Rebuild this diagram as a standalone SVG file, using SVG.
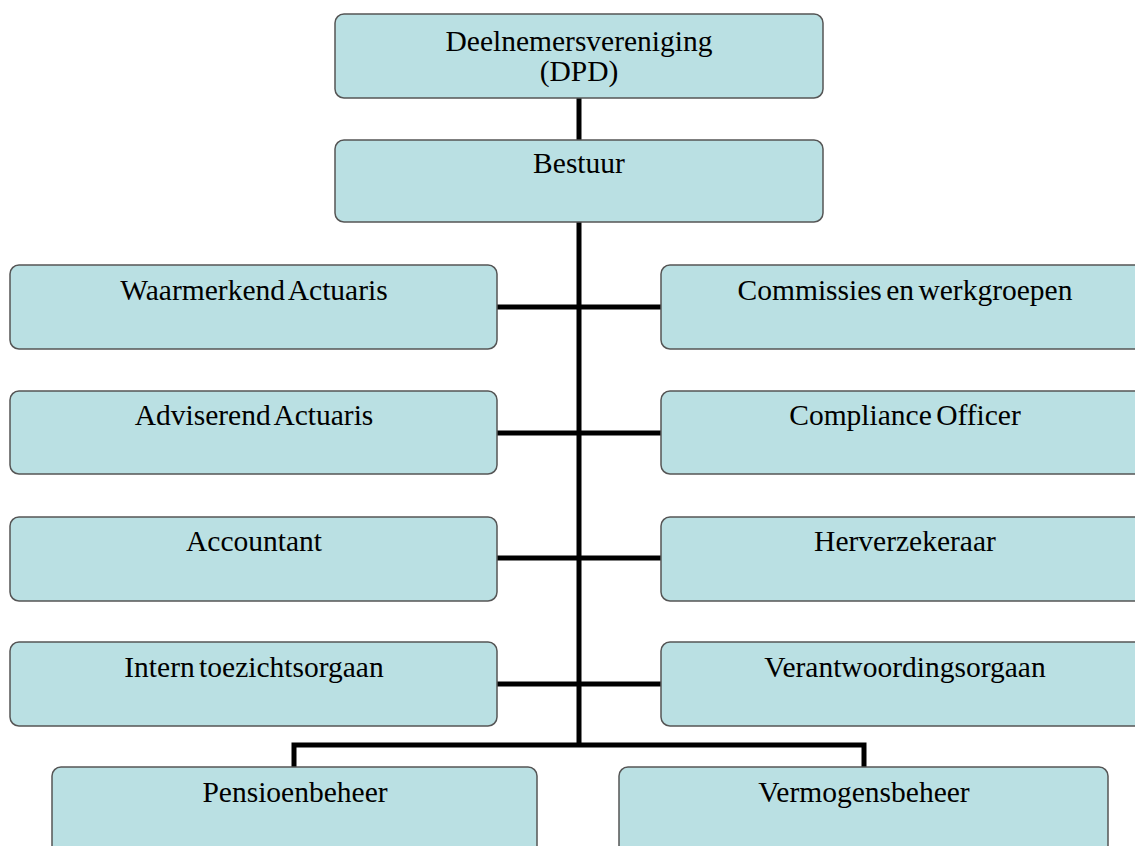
<svg xmlns="http://www.w3.org/2000/svg" width="1135" height="846" viewBox="0 0 1135 846">
<style>
.box{fill:#BAE0E3;stroke:#555;stroke-width:1.5}
.t{font-family:"Liberation Serif","Times New Roman",serif;font-size:29.5px;word-spacing:-3px;fill:#000;text-anchor:middle}
.c{fill:none;stroke:#000;stroke-width:5}
</style>
<rect width="1135" height="846" fill="#fff"/>
<g id="connectors">
<line class="c" x1="579" y1="98" x2="579" y2="140"/>
<line class="c" x1="579" y1="222" x2="579" y2="745"/>
<line class="c" x1="497" y1="307" x2="661" y2="307"/>
<line class="c" x1="497" y1="433" x2="661" y2="433"/>
<line class="c" x1="497" y1="558" x2="661" y2="558"/>
<line class="c" x1="497" y1="684" x2="661" y2="684"/>
<polyline class="c" points="294,767 294,745 864,745 864,767"/>
</g>
<g id="dpd"><rect class="box" x="335" y="14" width="488" height="84" rx="9"/><text class="t" x="579" y="51">Deelnemersvereniging</text><text class="t" x="579" y="81">(DPD)</text></g>
<g id="bestuur"><rect class="box" x="335" y="140" width="488" height="82" rx="9"/><text class="t" x="579" y="173">Bestuur</text></g>
<g id="waarmerkend"><rect class="box" x="10" y="265" width="487" height="84" rx="9"/><text class="t" x="254" y="300">Waarmerkend Actuaris</text></g>
<g id="commissies"><rect class="box" x="661" y="265" width="487" height="84" rx="9"/><text class="t" x="905" y="300">Commissies en werkgroepen</text></g>
<g id="adviserend"><rect class="box" x="10" y="391" width="487" height="83" rx="9"/><text class="t" x="254" y="425">Adviserend Actuaris</text></g>
<g id="compliance"><rect class="box" x="661" y="391" width="487" height="83" rx="9"/><text class="t" x="905" y="425">Compliance Officer</text></g>
<g id="accountant"><rect class="box" x="10" y="517" width="487" height="84" rx="9"/><text class="t" x="254" y="551">Accountant</text></g>
<g id="herverzekeraar"><rect class="box" x="661" y="517" width="487" height="84" rx="9"/><text class="t" x="905" y="551">Herverzekeraar</text></g>
<g id="intern"><rect class="box" x="10" y="642" width="487" height="84" rx="9"/><text class="t" x="254" y="677">Intern toezichtsorgaan</text></g>
<g id="verantwoording"><rect class="box" x="661" y="642" width="487" height="84" rx="9"/><text class="t" x="905" y="677">Verantwoordingsorgaan</text></g>
<g id="pensioenbeheer"><rect class="box" x="52" y="767" width="485" height="90" rx="9"/><text class="t" x="295" y="802">Pensioenbeheer</text></g>
<g id="vermogensbeheer"><rect class="box" x="619" y="767" width="489" height="90" rx="9"/><text class="t" x="864" y="802">Vermogensbeheer</text></g>
</svg>
